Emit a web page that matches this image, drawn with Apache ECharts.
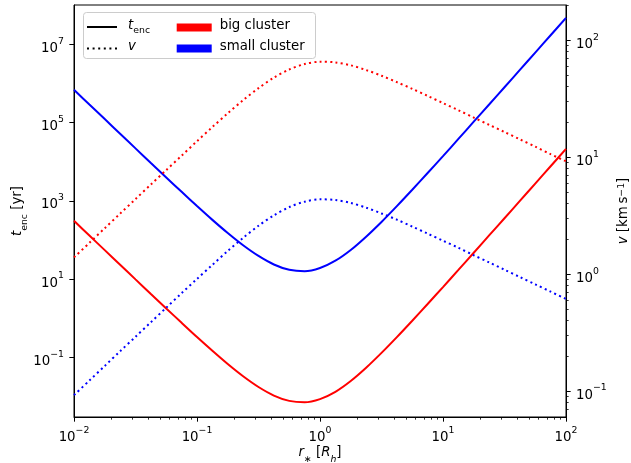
<!DOCTYPE html>
<html><head><meta charset="utf-8">
<script src="https://cdn.jsdelivr.net/npm/echarts@6/dist/echarts.min.js"></script>
<style>html,body{margin:0;padding:0;background:#fff}#c{width:631px;height:463px}</style>
</head><body><div id="c"></div>
<script>
// ---- data ----
const rValues = [0.01, 0.01334, 0.01778, 0.02371, 0.03162, 0.04217, 0.05623, 0.07499,
  0.1, 0.1334, 0.1778, 0.2371, 0.3162, 0.4217, 0.5623, 0.7499,
  1, 1.334, 1.778, 2.371, 3.162, 4.217, 5.623, 7.499,
  10, 13.34, 17.78, 23.71, 31.62, 42.17, 56.23, 74.99, 100];
const tEncBig = [307, 129, 54.8, 23.2, 9.82, 4.17, 1.78, 0.762,
  0.330, 0.147, 0.0675, 0.0329, 0.0175, 0.0106, 0.00774, 0.00714,
  0.00861, 0.0132, 0.0249, 0.0543, 0.130, 0.329, 0.863, 2.31,
  6.24, 17.1, 47.1, 130, 358, 991, 2750, 7600, 21100];
const tEncSmall = [6.81e5, 2.87e5, 1.22e5, 5.14e4, 2.18e4, 9250, 3940, 1690,
  733, 325, 150, 72.9, 38.9, 23.6, 17.2, 15.8,
  19.1, 29.4, 55.3, 121, 288, 730, 1910, 5120,
  13800, 37900, 105000, 288000, 794000, 2.20e6, 6.10e6, 1.69e7, 4.68e7];
const vBig = [1.39, 1.85, 2.47, 3.29, 4.38, 5.84, 7.76, 10.3,
  13.7, 18.1, 23.7, 30.7, 38.9, 47.9, 56.2, 62.5,
  65.5, 64.6, 61.0, 55.6, 49.7, 43.8, 38.4, 33.4,
  29.0, 25.2, 21.8, 18.9, 16.4, 14.2, 12.3, 10.6, 9.22];
const vSmall = [0.0923, 0.123, 0.164, 0.219, 0.291, 0.388, 0.516, 0.687,
  0.910, 1.20, 1.58, 2.04, 2.59, 3.18, 3.74, 4.16,
  4.36, 4.30, 4.06, 3.70, 3.30, 2.92, 2.55, 2.22,
  1.93, 1.68, 1.45, 1.26, 1.09, 0.944, 0.818, 0.708, 0.613];
const xMajorTicks = [0.01, 0.1, 1, 10, 100];
const xMinorTicks = [0.02,0.03,0.04,0.05,0.06,0.07,0.08,0.09,
  0.2,0.3,0.4,0.5,0.6,0.7,0.8,0.9, 2,3,4,5,6,7,8,9, 20,30,40,50,60,70,80,90];
const tEncTicks = [0.1, 10, 1000, 100000, 10000000];
const vMajorTicks = [0.1, 1, 10, 100];
const vMinorTicks = [0.07,0.08,0.09, 0.2,0.3,0.4,0.5,0.6,0.7,0.8,0.9,
  2,3,4,5,6,7,8,9, 20,30,40,50,60,70,80,90, 200];
const legendLines = ['t_enc', 'v'];
const legendClusters = ['big cluster', 'small cluster'];

// ---- styling ----
const FONT = 'DejaVu Sans';
const FS = 13.33, FSS = 9.33;
const tickRich = {
  b: {fontFamily: FONT, fontSize: FS, color: '#000', lineHeight: 18, verticalAlign: 'bottom'},
  s: {fontFamily: FONT, fontSize: FSS, color: '#000', lineHeight: 10, verticalAlign: 'top'}
};
const textRich = {
  i: {fontFamily: FONT, fontStyle: 'italic', fontSize: FS, color: '#000', lineHeight: 18, verticalAlign: 'top'},
  n: {fontFamily: FONT, fontSize: FS, color: '#000', lineHeight: 18, verticalAlign: 'top'},
  sub: {fontFamily: FONT, fontSize: FSS, color: '#000', lineHeight: 10, verticalAlign: 'bottom'},
  isub: {fontFamily: FONT, fontStyle: 'italic', fontSize: FSS, color: '#000', lineHeight: 10, verticalAlign: 'bottom'},
  sup: {fontFamily: FONT, fontSize: FSS, color: '#000', lineHeight: 10, verticalAlign: 'top'},
  li: {fontFamily: FONT, fontStyle: 'italic', fontSize: FS, color: '#000', lineHeight: 16, verticalAlign: 'top', padding: [0,0,0,6]},
  ln: {fontFamily: FONT, fontSize: FS, color: '#000', lineHeight: 16, verticalAlign: 'top', padding: [0,0,0,3]},
  lsub: {fontFamily: FONT, fontSize: FSS, color: '#000', lineHeight: 10, verticalAlign: 'bottom'}
};
function sci(v) {
  const e = Math.round(Math.log10(v));
  return '{b|10}{s|' + (e < 0 ? '\u2212' + (-e) : e) + '}';
}
const black = '#000';
const axisLineStyle = {show: true, onZero: false, lineStyle: {color: black, width: 1}};
const majorTick = (vals) => ({show: true, inside: false, length: 4.67, customValues: vals, lineStyle: {color: black, width: 1}});
const minorTickAxis = (vals) => ({show: true, inside: false, length: 2.67, customValues: vals, lineStyle: {color: black, width: 0.8}});

const pairs = (ys) => rValues.map((r, i) => [r, ys[i]]);
const dotted = [2, 3.3];

function legendItem(name, left, top, w, h, icon, color, fmt) {
  return {orient: 'vertical', left: left, top: top, padding: 0, itemWidth: w, itemHeight: h,
    selectedMode: false, z: 10,
    data: [{name: name, icon: icon, itemStyle: {color: color}}],
    formatter: fmt, textStyle: {rich: textRich}};
}
const solidIcon = 'path://M0,0H30V2H0Z';
const dotIcon = 'path://M0,0h2v2h-2zM5.6,0h2v2h-2zM11.2,0h2v2h-2zM16.8,0h2v2h-2zM22.4,0h2v2h-2zM28,0h2v2h-2z';

const chart = echarts.init(document.getElementById('c'), null, {renderer: 'canvas'});
const option = {
  animation: false,
  backgroundColor: '#fff',
  textStyle: {fontFamily: FONT},
  grid: {left: 74, right: 65, top: 5, bottom: 46, containLabel: false, outerBoundsMode: 'none',
         show: true, borderColor: black, borderWidth: 1, backgroundColor: 'transparent'},
  xAxis: [
    {type: 'log', min: 0.01, max: 100, position: 'bottom', axisLine: axisLineStyle,
     axisTick: majorTick(xMajorTicks),
     axisLabel: {customValues: xMajorTicks, formatter: sci, rich: tickRich, margin: 9, color: black},
     splitLine: {show: false}, minorTick: {show: false},
     name: '{i|r}{sub|\u2217}{n| [}{i|R}{isub|h}{n|]}', nameLocation: 'middle', nameGap: 29,
     nameMoveOverlap: false, nameTextStyle: {rich: textRich}},
    {type: 'log', min: 0.01, max: 100, position: 'bottom', axisLine: {show: false},
     axisTick: minorTickAxis(xMinorTicks), axisLabel: {show: false}, splitLine: {show: false}}
  ],
  yAxis: [
    {type: 'log', min: 0.003, max: 1e8, position: 'left', axisLine: axisLineStyle,
     axisTick: majorTick(tEncTicks),
     axisLabel: {customValues: tEncTicks, formatter: sci, rich: tickRich, margin: 10, color: black, padding: [3,0,0,0]},
     splitLine: {show: false},
     name: '{i|t}{sub|enc}{n| [yr]}', nameLocation: 'middle', nameGap: 45, nameRotate: 90,
     nameMoveOverlap: false, nameTextStyle: {rich: textRich}},
    {type: 'log', min: 0.06, max: 200, position: 'right', axisLine: axisLineStyle,
     axisTick: majorTick(vMajorTicks),
     axisLabel: {customValues: vMajorTicks, formatter: sci, rich: tickRich, margin: 10, color: black, padding: [3,0,0,0]},
     splitLine: {show: false},
     name: '{i|v}{n| [km\u2009s}{sup|\u22121}{n|]}', nameLocation: 'middle', nameGap: 51, nameRotate: 90,
     nameMoveOverlap: false, nameTextStyle: {rich: textRich}},
    {type: 'log', min: 0.06, max: 200, position: 'right', axisLine: {show: false},
     axisTick: minorTickAxis(vMinorTicks), axisLabel: {show: false}, splitLine: {show: false}}
  ],
  graphic: [{type: 'rect', z: 5, shape: {x: 83.5, y: 12.5, width: 232, height: 46, r: 3},
             style: {fill: 'rgba(255,255,255,0.8)', stroke: '#cccccc', lineWidth: 1}}],
  legend: [
    legendItem(legendLines[0], 87, 19, 30, 2, solidIcon, black, () => '{li|t}{lsub|enc}'),
    legendItem(legendLines[1], 87, 40.5, 30, 2, dotIcon, black, () => '{li|v}'),
    legendItem(legendClusters[0], 176.7, 19.5, 35, 8, 'rect', '#ff0000', (n) => '{ln|' + n + '}'),
    legendItem(legendClusters[1], 176.7, 40.5, 35, 8, 'rect', '#0000ff', (n) => '{ln|' + n + '}')
  ],
  series: [
    {name: 'big_tenc', type: 'line', xAxisIndex: 0, yAxisIndex: 0, data: pairs(tEncBig), symbol: 'none', smooth: 0.3,
     silent: true, lineStyle: {color: '#ff0000', width: 2}},
    {name: 'small_tenc', type: 'line', xAxisIndex: 0, yAxisIndex: 0, data: pairs(tEncSmall), symbol: 'none', smooth: 0.3,
     silent: true, lineStyle: {color: '#0000ff', width: 2}},
    {name: 'big_v', type: 'line', xAxisIndex: 0, yAxisIndex: 1, data: pairs(vBig), symbol: 'none', smooth: 0.3,
     silent: true, lineStyle: {color: '#ff0000', width: 2, type: dotted, cap: 'butt'}},
    {name: 'small_v', type: 'line', xAxisIndex: 0, yAxisIndex: 1, data: pairs(vSmall), symbol: 'none', smooth: 0.3,
     silent: true, lineStyle: {color: '#0000ff', width: 2, type: dotted, cap: 'butt'}},
    {name: legendLines[0], type: 'line', xAxisIndex: 0, yAxisIndex: 0, data: [], symbol: 'none', itemStyle: {color: black}, lineStyle: {color: black}},
    {name: legendLines[1], type: 'line', xAxisIndex: 0, yAxisIndex: 0, data: [], symbol: 'none', itemStyle: {color: black}, lineStyle: {color: black}},
    {name: legendClusters[0], type: 'line', xAxisIndex: 0, yAxisIndex: 0, data: [], symbol: 'none', itemStyle: {color: '#ff0000'}},
    {name: legendClusters[1], type: 'line', xAxisIndex: 0, yAxisIndex: 0, data: [], symbol: 'none', itemStyle: {color: '#0000ff'}}
  ]
};
chart.setOption(option);
</script></body></html>
